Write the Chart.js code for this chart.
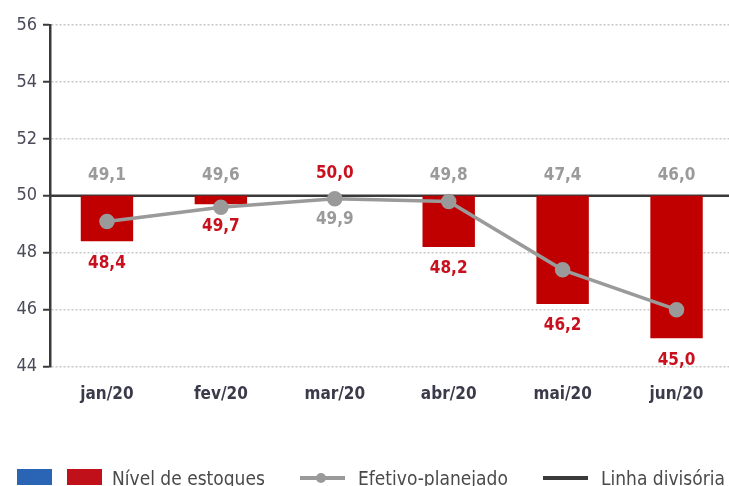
<!DOCTYPE html>
<html>
<head>
<meta charset="utf-8">
<script src="https://cdn.jsdelivr.net/npm/chart.js@4.4.1/dist/chart.umd.min.js"></script>
<style>
  body { margin: 0; background: #fff; width: 729px; height: 486px; overflow: hidden; position: relative; }
  #grafico { position: absolute; left: 0; top: 0; }
  #leyenda { position: absolute; left: 0; top: 0; width: 729px; height: 486px;
    font-family: "DejaVu Sans Condensed", sans-serif; font-size: 19px; color: #4a4a4a; }
  #leyenda span { position: absolute; white-space: nowrap; }
  .texto { top: 466px; line-height: 24px; }
</style>
</head>
<body>
<canvas id="grafico" width="743" height="423"></canvas>
<div id="leyenda">
  <span style="left:17px;top:469px;width:35px;height:16px;background:#2a64b4"></span>
  <span style="left:67px;top:469px;width:35px;height:16px;background:#c0101a"></span>
  <span class="texto" style="left:112px">Nível de estoques</span>
  <span style="left:300px;top:476px;width:45px;height:4px;background:#9a9a9a"></span>
  <span style="left:316px;top:473px;width:10px;height:10px;border-radius:50%;background:#9a9a9a"></span>
  <span class="texto" style="left:358px">Efetivo-planejado</span>
  <span style="left:543px;top:476px;width:45px;height:4px;background:#3a3a3a"></span>
  <span class="texto" style="left:601px">Linha divisória</span>
</div>
<script>
const meses = ["jan/20", "fev/20", "mar/20", "abr/20", "mai/20", "jun/20"];
const nivelEstoques = [48.4, 49.7, 50.0, 48.2, 46.2, 45.0];
const efetivoPlanejado = [49.1, 49.6, 49.9, 49.8, 47.4, 46.0];
const linhaDivisoria = 50;
const ticksY = [44, 46, 48, 50, 52, 54, 56];

const fuente = '"DejaVu Sans Condensed", sans-serif';

// linea en 50 y etiquetas de valores
const etiquetas = {
    id: 'etiquetas',
    beforeDatasetsDraw(chart) {
        const { ctx, chartArea, scales } = chart;
        const y = scales.y.getPixelForValue(linhaDivisoria);
        ctx.save();
        ctx.strokeStyle = '#3a3a3a';
        ctx.lineWidth = 2.5;
        ctx.beginPath();
        ctx.moveTo(chartArea.left, y);
        ctx.lineTo(chartArea.right, y);
        ctx.stroke();
        ctx.restore();
    },
    afterDatasetsDraw(chart) {
        const { ctx, scales } = chart;
        const fmt = v => v.toFixed(1).replace('.', ',');
        ctx.save();
        ctx.font = 'bold 17px ' + fuente;
        ctx.textAlign = 'center';
        ctx.textBaseline = 'middle';
        const y50 = scales.y.getPixelForValue(linhaDivisoria);
        meses.forEach((m, i) => {
            const x = scales.x.getPixelForValue(i);
            const n = nivelEstoques[i];
            const e = efetivoPlanejado[i];
            // rojo
            ctx.fillStyle = '#c8101e';
            if (n >= linhaDivisoria) {
                ctx.fillText(fmt(n), x, y50 - 22);
            } else {
                ctx.fillText(fmt(n), x, scales.y.getPixelForValue(n) + 22);
            }
            // gris
            ctx.fillStyle = '#9a9a9a';
            if (n >= linhaDivisoria) {
                ctx.fillText(fmt(e), x, y50 + 24);
            } else {
                ctx.fillText(fmt(e), x, y50 - 20);
            }
        });
        ctx.restore();
    }
};

const ctx = document.getElementById('grafico').getContext('2d');
new Chart(ctx, {
    type: 'bar',
    data: {
        labels: meses,
        datasets: [
            {
                type: 'line',
                label: 'Efetivo-planejado',
                data: efetivoPlanejado,
                borderColor: '#9a9a9a',
                backgroundColor: '#9a9a9a',
                borderWidth: 3.5,
                pointRadius: 6,
                pointHoverRadius: 6,
                tension: 0,
                order: 0
            },
            {
                label: 'Nível de estoques',
                data: nivelEstoques.map(v => [linhaDivisoria, v]),
                backgroundColor: '#c00000',
                barPercentage: 0.46,
                categoryPercentage: 1,
                order: 1
            }
        ]
    },
    options: {
        responsive: false,
        animation: false,
        layout: { padding: { top: 25, right: 0, left: 0, bottom: 0 } },
        plugins: { legend: { display: false }, tooltip: { enabled: false } },
        scales: {
            x: {
                grid: { display: false, drawTicks: false },
                border: { display: false },
                ticks: { color: '#3a3a4a', font: { family: fuente, size: 17, weight: 'bold' }, padding: 18 }
            },
            y: {
                min: 44,
                max: 56,
                afterBuildTicks: s => { s.ticks = ticksY.map(v => ({ value: v })); },
                afterFit: s => { s.width = 50; },
                grid: { color: '#c8c8c8', lineWidth: 1.5, tickLength: 7, tickColor: '#3a3a3a', tickWidth: 2 },
                border: { display: true, color: '#3a3a3a', width: 2.5, dash: [2, 2] },
                ticks: { color: '#4a4a5a', font: { family: fuente, size: 18 }, padding: 6 }
            }
        }
    },
    plugins: [etiquetas]
});
</script>
</body>
</html>
